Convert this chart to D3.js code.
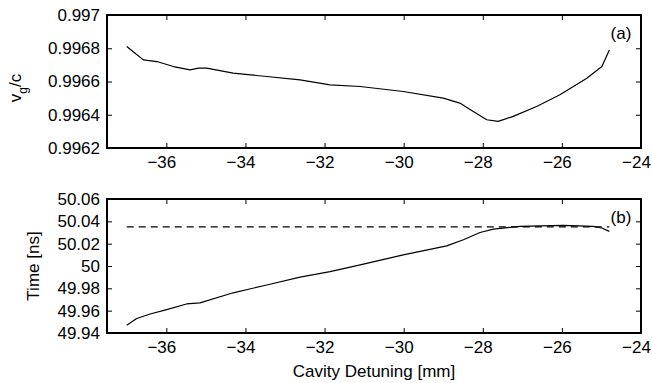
<!DOCTYPE html>
<html>
<head>
<meta charset="utf-8">
<script src="https://cdn.jsdelivr.net/npm/d3@7"></script>
<style>
  body { margin: 0; background: #fff; }
  text { font-family: "Liberation Sans", Arial, sans-serif; fill: #000; }
</style>
</head>
<body>
<div id="chart"></div>
<script>
// Data
const detuningA = [-37.0, -36.79, -36.58, -36.24, -35.82, -35.4, -35.19, -34.98, -34.31, -33.46, -32.62, -31.86, -31.1, -30.01, -29.0, -28.58, -28.24, -27.9, -27.61, -27.23, -26.64, -26.05, -25.37, -24.99, -24.8];
const vgOverC = [0.99681, 0.99677, 0.99673, 0.99672, 0.99669, 0.99667, 0.99668, 0.99668, 0.99665, 0.99663, 0.99661, 0.99658, 0.99657, 0.99654, 0.9965, 0.99647, 0.99642, 0.99637, 0.99636, 0.99639, 0.99645, 0.99652, 0.99662, 0.99669, 0.99679];

const detuningB = [-37.0, -36.75, -36.41, -35.99, -35.49, -35.15, -34.31, -33.46, -32.62, -31.86, -31.1, -30.01, -28.91, -28.49, -28.07, -27.73, -27.06, -25.97, -25.21, -24.99, -24.8];
const timeNs = [49.947, 49.953, 49.957, 49.961, 49.966, 49.967, 49.976, 49.983, 49.99, 49.995, 50.001, 50.01, 50.018, 50.0235, 50.03, 50.033, 50.0355, 50.0364, 50.0355, 50.034, 50.031];
const timeRef = 50.035;

const xTicks = [-36, -34, -32, -30, -28, -26, -24];
const yTicksA = [0.9962, 0.9964, 0.9966, 0.9968, 0.997];
const yTicksB = [49.94, 49.96, 49.98, 50, 50.02, 50.04, 50.06];

const width = 652, height = 383;
const left = 107, right = 641;
const fontSize = '17px';

const svg = d3.select('#chart').append('svg')
  .attr('width', width)
  .attr('height', height);

const x = d3.scaleLinear().domain([-37.5, -24]).range([left, right]);

function panel(top, bottom, domain, yTicks, fmt, xs, ys, tag) {
  const y = d3.scaleLinear().domain(domain).range([bottom, top]);
  const g = svg.append('g');

  // ticks point inwards, on all four sides
  g.append('g').attr('transform', `translate(0,${bottom})`)
    .call(d3.axisBottom(x).tickValues(xTicks).tickSize(-5).tickPadding(8).tickFormat(d => String(d).replace('-', '\u2212')))
    .call(a => a.select('.domain').remove())
    .call(a => a.selectAll('.tick text').attr('x', -5));
  g.append('g').attr('transform', `translate(0,${top})`)
    .call(d3.axisTop(x).tickValues(xTicks).tickSize(-5).tickFormat(''))
    .call(a => a.select('.domain').remove());
  g.append('g').attr('transform', `translate(${left},0)`)
    .call(d3.axisLeft(y).tickValues(yTicks).tickSize(-5).tickPadding(7).tickFormat(fmt))
    .call(a => a.select('.domain').remove());
  g.append('g').attr('transform', `translate(${right},0)`)
    .call(d3.axisRight(y).tickValues(yTicks).tickSize(-5).tickFormat(''))
    .call(a => a.select('.domain').remove());

  g.selectAll('.tick text').style('font-size', fontSize).style('font-family', '"Liberation Sans", Arial, sans-serif');
  g.selectAll('.tick line').attr('stroke', '#000');

  g.append('rect')
    .attr('x', left).attr('y', top)
    .attr('width', right - left).attr('height', bottom - top)
    .attr('fill', 'none').attr('stroke', '#000').attr('stroke-width', 2);

  const line = d3.line().x((d, i) => x(xs[i])).y(d => y(d));
  g.append('path').datum(ys)
    .attr('d', line)
    .attr('fill', 'none').attr('stroke', '#000').attr('stroke-width', 1.2)
    .attr('stroke-linejoin', 'round');

  g.append('text')
    .attr('x', 621).attr('y', top + 24)
    .attr('text-anchor', 'middle')
    .style('font-size', fontSize)
    .text(tag);

  return y;
}

panel(15, 148, [0.9962, 0.997], yTicksA, d3.format('.4~f'), detuningA, vgOverC, '(a)');
const yB = panel(199, 333, [49.94, 50.06], yTicksB, d3.format('.2~f'), detuningB, timeNs, '(b)');

// reference level
svg.append('line')
  .attr('x1', x(-37)).attr('x2', x(-24.8))
  .attr('y1', yB(timeRef)).attr('y2', yB(timeRef))
  .attr('stroke', '#000').attr('stroke-width', 1.2)
  .attr('stroke-dasharray', '7,5');

// axis titles
svg.append('text')
  .attr('x', 374).attr('y', 377)
  .attr('text-anchor', 'middle')
  .style('font-size', fontSize)
  .text('Cavity Detuning [mm]');

svg.append('text')
  .attr('transform', `translate(39,266) rotate(-90)`)
  .attr('text-anchor', 'middle')
  .style('font-size', fontSize)
  .text('Time [ns]');

const vg = svg.append('text')
  .attr('transform', `translate(21,88) rotate(-90)`)
  .attr('text-anchor', 'middle')
  .style('font-size', fontSize);
vg.append('tspan').text('v');
vg.append('tspan').attr('dy', 6).style('font-size', '12px').text('g');
vg.append('tspan').attr('dy', -6).text('/c');
</script>
</body>
</html>
